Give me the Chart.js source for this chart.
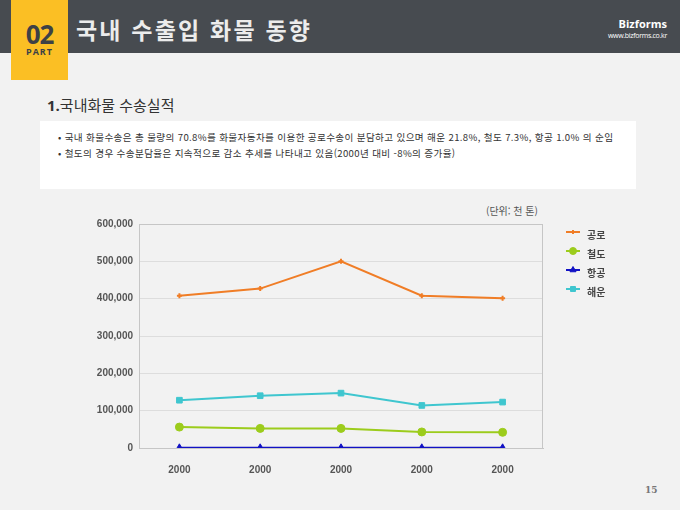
<!DOCTYPE html>
<html lang="ko">
<head>
<meta charset="utf-8">
<script src="https://cdn.jsdelivr.net/npm/chart.js@4"></script>
<style>
    html, body { margin: 0; padding: 0; }
    body {
        width: 680px; height: 510px; position: relative; overflow: hidden;
        background: #f2f2f2; font-family: "Noto Sans CJK KR", "Noto Sans", sans-serif;
    }
    .topbar { position: absolute; left: 0; top: 0; width: 680px; height: 53px; background: #474b50; }
    .part { position: absolute; left: 11px; top: 0; width: 57px; height: 80px; background: #fbbf24; text-align: center; }
    .part .num { position: absolute; left: 0; width: 57px; top: 16px; font: bold 26px "Open Sans", sans-serif; color: #3d4146; letter-spacing: -1px; }
    .part .lbl { position: absolute; left: 0; width: 57px; top: 45px; font: bold 9px "Open Sans", sans-serif; color: #3d4146; letter-spacing: 1px; }
    .title { position: absolute; left: 76px; top: 18px; font-size: 23px; font-weight: bold; color: #ececec; letter-spacing: 2.2px; line-height: 1; }
    .brand { position: absolute; right: 13px; top: 16px; text-align: right; color: #fff; }
    .brand .b1 { font: bold 11px "Open Sans", sans-serif; }
    .brand .b2 { font: 7px "Open Sans", sans-serif; letter-spacing: -0.3px; }
    .sub { position: absolute; left: 47px; top: 94px; font-size: 15px; color: #333; }
    .sub b { font-family: "Open Sans", sans-serif; }
    .note { position: absolute; left: 40px; top: 121px; width: 596px; height: 68px; background: #fff; }
    .note p { margin: 0; position: absolute; left: 18px; font-size: 9.6px; letter-spacing: 0.35px; color: #333; white-space: nowrap; }
    .unit { position: absolute; left: 486px; top: 203px; font-size: 10px; color: #555; }
    .page { position: absolute; left: 645px; top: 485px; font: bold 9px "DejaVu Serif", serif; color: #777; }
    #wrap { position: absolute; left: 80px; top: 205px; width: 560px; height: 270px; }
</style>
</head>
<body>
<div class="topbar"></div>
<div class="part"><div class="num">02</div><div class="lbl">PART</div></div>
<div class="title">국내 수출입 화물 동향</div>
<div class="brand"><div class="b1">Bizforms</div><div class="b2">www.bizforms.co.kr</div></div>
<div class="sub"><b>1.</b>국내화물 수송실적</div>
<div class="note">
    <p style="top:9px">• 국내 화물수송은 총 물량의 70.8%를 화물자동차를 이용한 공로수송이 분담하고 있으며 해운 21.8%, 철도 7.3%, 항공 1.0% 의 순임</p>
    <p style="top:25px">• 철도의 경우 수송분담율은 지속적으로 감소 추세를 나타내고 있음(2000년 대비 -8%의 증가율)</p>
</div>
<div class="unit">(단위: 천 톤)</div>
<div id="wrap"><canvas id="chart"></canvas></div>
<div class="page">15</div>

<script>
    (function () {
        "use strict";

        const categories = ["2000", "2000", "2000", "2000", "2000"];
        const roadValues = [408000, 427000, 500000, 408000, 401000];
        const railValues = [56000, 52500, 52500, 43000, 42000];
        const airValues = [500, 500, 500, 500, 500];
        const seaValues = [128000, 140000, 147000, 114000, 123000];
        const yTicks = [0, 100000, 200000, 300000, 400000, 500000, 600000];

        function series(label, data, color, style, radius) {
            return {
                label: label,
                data: data,
                borderColor: color,
                backgroundColor: color,
                borderWidth: 2,
                pointStyle: style,
                pointRadius: radius,
                pointBorderWidth: style === "cross" ? 2 : 1,
                tension: 0,
            };
        }

        // legend drawn to the right of the plot, line + marker like the source
        const sideLegend = {
            id: "sideLegend",
            afterDraw(chart) {
                const ctx = chart.ctx;
                const x0 = chart.chartArea.right + 23;
                ctx.save();
                chart.data.datasets.forEach((ds, i) => {
                    const y = chart.chartArea.top + 8 + i * 19;
                    ctx.strokeStyle = ds.borderColor;
                    ctx.fillStyle = ds.backgroundColor;
                    ctx.lineWidth = 2;
                    ctx.beginPath();
                    ctx.moveTo(x0, y);
                    ctx.lineTo(x0 + 14, y);
                    ctx.stroke();
                    ctx.lineWidth = ds.pointBorderWidth;
                    Chart.helpers.drawPoint(ctx, {
                        pointStyle: ds.pointStyle,
                        radius: ds.pointRadius - 0.5,
                        borderWidth: ds.pointBorderWidth,
                    }, x0 + 7, y);
                    ctx.fillStyle = "#444";
                    ctx.font = "bold 10px 'Noto Sans CJK KR'";
                    ctx.textBaseline = "middle";
                    ctx.fillText(ds.label, x0 + 21, y + 3);
                });
                ctx.restore();
            },
        };

        const plotFrame = {
            id: "plotFrame",
            beforeDatasetsDraw(chart) {
                const a = chart.chartArea;
                const ctx = chart.ctx;
                ctx.save();
                ctx.strokeStyle = "#c6c6c6";
                ctx.lineWidth = 1;
                ctx.strokeRect(a.left + 0.5, a.top + 0.5, a.width - 1, a.height);
                ctx.restore();
            },
        };

        const ctx = document.getElementById("chart").getContext("2d");
        new Chart(ctx, {
            type: "line",
            data: {
                labels: categories,
                datasets: [
                    series("공로", roadValues, "#f07d26", "cross", 2.5),
                    series("철도", railValues, "#9ccc1c", "circle", 4),
                    series("항공", airValues, "#1212c4", "triangle", 4),
                    series("해운", seaValues, "#3fc6cf", "rect", 4),
                ],
            },
            options: {
                responsive: true,
                maintainAspectRatio: false,
                animation: false,
                layout: { padding: { top: 19, right: 97, bottom: 0, left: 0 } },
                plugins: { legend: { display: false }, tooltip: { enabled: false } },
                scales: {
                    x: {
                        offset: true,
                        grid: { display: false },
                        border: { display: true, color: "#c6c6c6" },
                        ticks: { color: "#555", font: { size: 10, weight: "bold", family: "Arial, 'Liberation Sans'" }, padding: 8 },
                        afterFit(scale) { scale.height = 27; },
                    },
                    y: {
                        min: 0,
                        max: 600000,
                        afterBuildTicks(scale) { scale.ticks = yTicks.map(v => ({ value: v })); },
                        ticks: {
                            color: "#555",
                            font: { size: 10, weight: "bold", family: "Arial, 'Liberation Sans'" },
                            padding: 6,
                            callback: v => v.toLocaleString("en-US"),
                        },
                        grid: { color: "#dddddd", drawTicks: false },
                        border: { display: false },
                        afterFit(scale) { scale.width = 59; },
                    },
                },
            },
            plugins: [plotFrame, sideLegend],
        });
    })();
</script>
</body>
</html>
